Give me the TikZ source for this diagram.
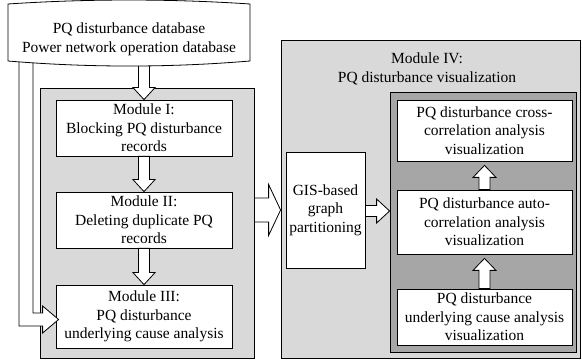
\documentclass[tikz,border=0pt]{standalone}
\usepackage{fontspec}
\setmainfont{Liberation Serif}
\usetikzlibrary{calc}
\definecolor{lg}{HTML}{D9D9D9}
\definecolor{dg}{HTML}{A6A6A6}
\newcommand{\dblk}[2]{\draw[blk] let \p1=(#1),\p2=(#2) in (\x2-5.5pt,\y1) -- (\x2+5.5pt,\y1) -- (\x2+5.5pt,\y2+12pt) -- (\x2+11pt,\y2+12pt) -- (\x2,\y2) -- (\x2-11pt,\y2+12pt) -- (\x2-5.5pt,\y2+12pt) -- cycle;}
\newcommand{\ublk}[2]{\draw[blk] let \p1=(#1),\p2=(#2) in (\x2-5.5pt,\y1) -- (\x2+5.5pt,\y1) -- (\x2+5.5pt,\y2-12pt) -- (\x2+11.5pt,\y2-12pt) -- (\x2,\y2) -- (\x2-11.5pt,\y2-12pt) -- (\x2-5.5pt,\y2-12pt) -- cycle;}
\newcommand{\rblk}[5]{\draw[blk] let \p1=(#1),\p2=(#2) in (\x1,\y2+#3) -- (\x2-#5,\y2+#3) -- (\x2-#5,\y2+#4) -- (\x2,\y2) -- (\x2-#5,\y2-#4) -- (\x2-#5,\y2-#3) -- (\x1,\y2-#3) -- cycle;}
\begin{document}
\begin{tikzpicture}[x=1pt,y=-1pt,line width=0.8pt,
  txt/.style={align=center,inner sep=0pt,font=\fontsize{15.5}{18.5}\selectfont},
  box/.style={txt,draw,fill=white},
  grp/.style={draw,inner sep=0pt},
  blk/.style={draw,fill=white,line width=0.8pt,line join=miter}]
\useasboundingbox (0,0) rectangle (582,363);
% groups
\node[grp,fill=lg,minimum width=214pt,minimum height=270pt] (lbox) at (147,223) {};
\node[grp,fill=lg,minimum width=299pt,minimum height=318pt] (m4) at (430.5,199) {};
\node[grp,fill=dg,minimum width=186pt,minimum height=260pt] (dark) at (483,222) {};
\node[txt] (m4t) at (427,69) {Module IV:\\PQ disturbance visualization};
% module boxes
\node[box,minimum width=176pt,minimum height=56pt] (m1) at (144,128) {Module I:\\Blocking PQ disturbance\\records};
\node[box,minimum width=176pt,minimum height=56pt] (m2) at (144,220) {Module II:\\Deleting duplicate PQ\\records};
\node[box,minimum width=176pt,minimum height=63pt] (m3) at (144,316.5) {Module III:\\PQ disturbance\\underlying cause analysis};
\node[box,minimum width=79pt,minimum height=116pt] (gis) at (325.5,210) {GIS-based\\graph\\partitioning};
\node[box,minimum width=175pt,minimum height=61pt] (cross) at (484.5,130.5) {PQ disturbance cross-\\correlation analysis\\visualization};
\node[box,minimum width=175pt,minimum height=64pt] (auto) at (484.5,222) {PQ disturbance auto-\\correlation analysis\\visualization};
\node[box,minimum width=175pt,minimum height=56pt] (under) at (484.5,317) {PQ disturbance\\underlying cause analysis\\visualization};
% database anchor points
\coordinate (dbb) at (144,58);
\coordinate (dbl) at (19,58);
% arrows
\dblk{dbb}{m1.north}
\dblk{m1.south}{m2.north}
\dblk{m2.south}{m3.north}
\ublk{auto.north}{$(cross.south)+(0,4)$}
\ublk{under.north}{$(auto.south)+(0,4)$}
\rblk{lbox.east |- gis.west}{m4.west |- gis.west}{12pt}{25.5pt}{12pt}
\rblk{gis.east}{$(dark.west |- gis.east)+(0,1)$}{5.5pt}{12pt}{13pt}
\draw[blk] let \p1=(dbl),\p2=($(m3.west)+(3,3)$) in
  (\x1,\y1) -- (\x1,\y2-6.5pt) -- (\x2-16pt,\y2-6.5pt) -- (\x2-16pt,\y2-13.5pt) -- (\x2,\y2)
  -- (\x2-16pt,\y2+13.5pt) -- (\x2-16pt,\y2+6.5pt) -- (\x1+14pt,\y2+6.5pt) -- (\x1+14pt,\y1) -- cycle;
% database shape
\draw[fill=white] (8,4) .. controls (88,-1.3) and (170,-1.3) .. (250,4) -- (250,61)
  .. controls (170,67.7) and (88,67.7) .. (8,61) -- cycle;
\node[txt] (dbt) at (129,39.5) {PQ disturbance database\\Power network operation database};
\end{tikzpicture}
\end{document}
